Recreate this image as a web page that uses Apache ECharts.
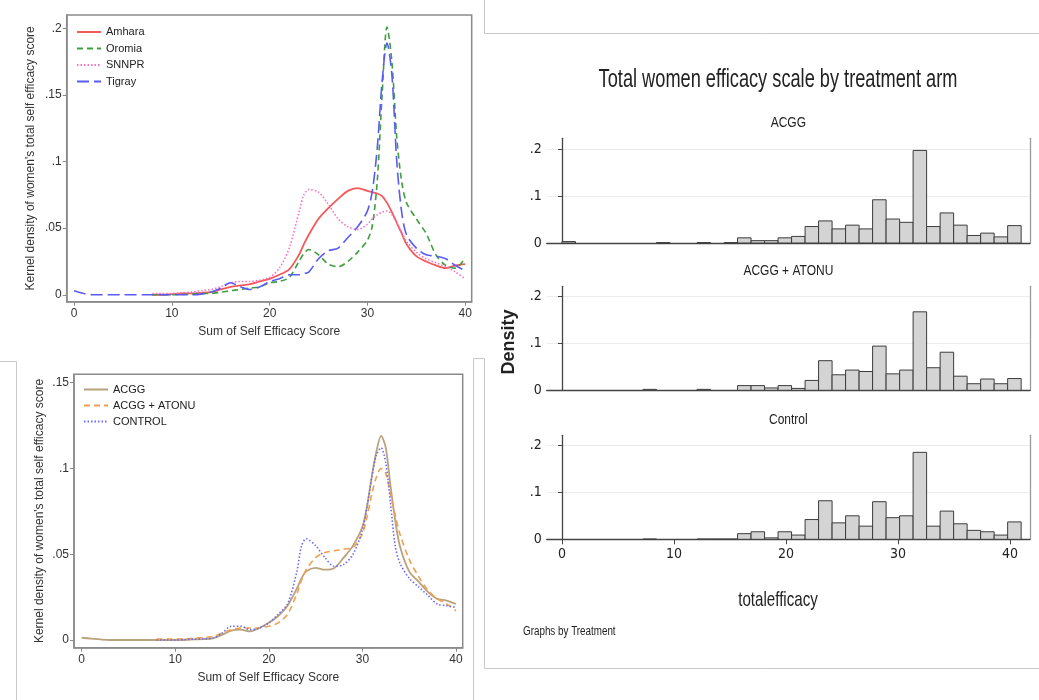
<!DOCTYPE html>
<html>
<head>
<meta charset="utf-8">
<script src="https://cdn.jsdelivr.net/npm/echarts@6/dist/echarts.min.js"></script>
<style>
  html, body { margin: 0; padding: 0; background: #fff; }
  #chart { width: 1039px; height: 700px; }
</style>
</head>
<body>
<div id="chart"></div>
<script>
// Score points at which the kernel densities are evaluated
const kdeScores = [
  0, 1, 2, 3, 4, 5, 6, 7,
  8, 9, 10, 11, 12, 13, 14, 15,
  16, 17, 18, 19, 20, 21, 22, 23,
  23.5, 24, 25, 26, 27, 28, 29, 30,
  30.5, 31, 31.5, 32, 32.5, 33, 33.5, 34,
  35, 36, 37, 38, 39, 40
];

// Kernel density by region
const amhara = [
  null, null, null, null, null, null, null, null,
  0, 0, 0.0005, 0.001, 0.001, 0.0015, 0.002, 0.004,
  0.006, 0.007, 0.008, 0.010, 0.012, 0.015, 0.019, 0.030,
  0.038, 0.045, 0.057, 0.065, 0.072, 0.078, 0.080, 0.078,
  0.077, 0.076, 0.074, 0.069, 0.062, 0.054, 0.046, 0.038,
  0.029, 0.025, 0.022, 0.020, 0.022, 0.023
];
const oromia = [
  null, null, null, null, null, null, null, null,
  0, 0, 0, 0.0003, 0.0005, 0.001, 0.001, 0.002,
  0.003, 0.004, 0.005, 0.006, 0.009, 0.010, 0.013, 0.025,
  0.031, 0.034, 0.030, 0.023, 0.021, 0.025, 0.032, 0.041,
  0.052, 0.085, 0.150, 0.201, 0.175, 0.118, 0.085, 0.069,
  0.057, 0.046, 0.030, 0.022, 0.020, 0.028
];
const snnpr = [
  null, null, null, null, null, null, null, null,
  0.001, 0.001, 0.001, 0.0015, 0.002, 0.003, 0.004, 0.006,
  0.009, 0.010, 0.010, 0.011, 0.013, 0.020, 0.035, 0.062,
  0.075, 0.079, 0.077, 0.068, 0.057, 0.051, 0.049, 0.053,
  0.057, 0.060, 0.062, 0.063, 0.060, 0.054, 0.047, 0.040,
  0.032, 0.027, 0.024, 0.021, 0.017, 0.012
];
const tigray = [
  0.003, 0.001, 0, 0, 0, 0, 0, 0,
  0, 0, 0, 0, 0, 0.0005, 0.002, 0.005,
  0.009, 0.006, 0.004, 0.006, 0.010, 0.012, 0.015, 0.015,
  0.016, 0.017, 0.027, 0.033, 0.035, 0.043, 0.051, 0.063,
  0.078, 0.110, 0.160, 0.189, 0.165, 0.100, 0.062, 0.045,
  0.035, 0.030, 0.029, 0.027, 0.022, 0.018
];

// Kernel density by treatment arm
const acggKde = [
  0.0013, 0.0008, 0.0003, 0, 0, 0, 0, 0,
  0, 0, 0, 0, 0.0003, 0.0005, 0.001, 0.003,
  0.0055, 0.006, 0.005, 0.007, 0.010, 0.014, 0.020, 0.030,
  0.036, 0.040, 0.042, 0.041, 0.042, 0.048, 0.055, 0.066,
  0.078, 0.095, 0.110, 0.119, 0.112, 0.090, 0.070, 0.055,
  0.040, 0.034, 0.028, 0.024, 0.023, 0.021
];
const acggAtonuKde = [
  null, null, null, null, null, null, null, null,
  0.0005, 0.0005, 0.0005, 0.0007, 0.001, 0.0015, 0.002, 0.004,
  0.006, 0.007, 0.007, 0.007, 0.008, 0.010, 0.015, 0.027,
  0.035, 0.041, 0.048, 0.051, 0.052, 0.053, 0.054, 0.062,
  0.072, 0.085, 0.095, 0.100, 0.097, 0.085, 0.073, 0.062,
  0.047, 0.037, 0.029, 0.024, 0.021, 0.017
];
const controlKde = [
  null, null, null, null, null, null, null, null,
  0, 0, 0, 0.0003, 0.0005, 0.0007, 0.001, 0.004,
  0.008, 0.008, 0.006, 0.007, 0.010, 0.015, 0.021, 0.040,
  0.055, 0.059, 0.055, 0.048, 0.043, 0.044, 0.050, 0.064,
  0.078, 0.095, 0.108, 0.112, 0.103, 0.080, 0.055, 0.045,
  0.036, 0.031, 0.026, 0.021, 0.020, 0.019
];

// Histogram of totalefficacy: 34 equal bins over 0..41
const histMax = 41;
const histBins = 34;
const acggHist = [
  0.003, 0, 0, 0, 0, 0, 0, 0.0008, 0, 0, 0.0008, 0, 0.0008,
  0.011, 0.005, 0.005, 0.011, 0.014, 0.035, 0.047, 0.030, 0.038, 0.030,
  0.092, 0.051, 0.044, 0.197, 0.035, 0.064, 0.038, 0.016, 0.021, 0.013, 0.037
];
const acggAtonuHist = [
  0, 0, 0, 0, 0, 0, 0.002, 0, 0, 0, 0.002, 0, 0,
  0.010, 0.010, 0.005, 0.010, 0.004, 0.021, 0.063, 0.033, 0.043, 0.040,
  0.094, 0.035, 0.043, 0.167, 0.048, 0.081, 0.030, 0.014, 0.024, 0.014, 0.025
];
const controlHist = [
  0, 0, 0, 0, 0, 0, 0.0005, 0, 0, 0, 0.0005, 0.0005, 0.0005,
  0.012, 0.016, 0.003, 0.016, 0.009, 0.042, 0.082, 0.035, 0.050, 0.028,
  0.080, 0.046, 0.050, 0.185, 0.028, 0.060, 0.033, 0.019, 0.016, 0.009, 0.037
];

const scoreTicks = [0, 10, 20, 30, 40];
const regionDensityTicks = [0, 0.05, 0.1, 0.15, 0.2];
const armDensityTicks = [0, 0.05, 0.1, 0.15];
const histDensityTicks = [0, 0.1, 0.2];
const histPanelTitles = ['ACGG', 'ACGG + ATONU', 'Control'];

const SANS = '"Liberation Sans", Arial, Helvetica, sans-serif';
const NARROW = '"Liberation Sans Narrow", "DejaVu Sans Condensed", "Liberation Sans", Arial, sans-serif';

// Stata style tick label: .05 instead of 0.05
const stataNum = v => (v === 0 ? '0' : String(+v.toFixed(3)).replace(/^0\./, '.'));

function pairs(ys) {
  const out = [];
  kdeScores.forEach((x, i) => { if (ys[i] !== null) out.push([x, ys[i]]); });
  return out;
}

function kdeLine(name, ys, axisIdx, color, type, width) {
  return {
    name, type: 'line', xAxisIndex: axisIdx, yAxisIndex: axisIdx,
    data: pairs(ys), smooth: 0.3, symbol: 'none', showSymbol: false,
    lineStyle: { color, width, type }, itemStyle: { color },
    emphasis: { disabled: true }, silent: true, z: 3
  };
}

function histData(vals) {
  const w = histMax / histBins;
  return vals.map((v, i) => [i * w, (i + 1) * w, v]);
}

function renderBin(params, api) {
  const h = api.value(2);
  if (!h) return null;
  const tl = api.coord([api.value(0), h]);
  const br = api.coord([api.value(1), 0]);
  return {
    type: 'rect',
    shape: { x: tl[0], y: tl[1], width: br[0] - tl[0], height: br[1] - tl[1] },
    style: { fill: '#d4d4d4', stroke: '#3c3c3c', lineWidth: 1 }
  };
}

// KDE panel axes (Stata look: framed plot region, outward ticks)
function kdeXAxis(gridIndex, min, max) {
  return {
    type: 'value', gridIndex, min, max,
    name: 'Sum of Self Efficacy Score', nameLocation: 'middle', nameGap: 24,
    nameTextStyle: { fontFamily: SANS, fontSize: 12, color: '#333' },
    axisLine: { show: true, onZero: false, lineStyle: { color: '#8a8a8a', width: 1.5 } },
    axisTick: { show: true, inside: false, length: 4, customValues: scoreTicks, lineStyle: { color: '#8a8a8a' } },
    axisLabel: { customValues: scoreTicks, fontFamily: SANS, fontSize: 12, color: '#333', margin: 6 },
    splitLine: { show: false }
  };
}
function kdeYAxis(gridIndex, min, max, ticks, gap) {
  return {
    type: 'value', gridIndex, min, max,
    name: "Kernel density of women's total self efficacy score", nameLocation: 'middle', nameGap: gap,
    nameRotate: 90,
    nameTextStyle: { fontFamily: SANS, fontSize: 12, color: '#333' },
    axisLine: { show: true, onZero: false, lineStyle: { color: '#8a8a8a', width: 1.5 } },
    axisTick: { show: true, inside: false, length: 4, customValues: ticks, lineStyle: { color: '#8a8a8a' } },
    axisLabel: { customValues: ticks, formatter: stataNum, fontFamily: SANS, fontSize: 12, color: '#333', margin: 5 },
    splitLine: { show: false }
  };
}

// Histogram panel axes
const histLeft = 546.7, histWidth = 483.3;
const histTops = [138.3, 286.3, 435.3];
const histHeights = [104.7, 104, 104];
const histYMax = [0.2228, 0.2213, 0.2213];

const grids = [
  { left: 66.7, top: 15, width: 405, height: 286.7, show: true, borderColor: '#8a8a8a', borderWidth: 1.5 },
  { left: 74, top: 374.3, width: 388.7, height: 273.4, show: true, borderColor: '#8a8a8a', borderWidth: 1.5 }
];
histTops.forEach((t, i) => grids.push({ left: histLeft, top: t, width: histWidth, height: histHeights[i] }));

const xAxes = [kdeXAxis(0, -0.75, 40.66), kdeXAxis(1, -0.823, 40.72)];
const yAxes = [
  kdeYAxis(0, -0.0052, 0.21, regionDensityTicks, 30),
  kdeYAxis(1, -0.0045, 0.1549, armDensityTicks, 28)
];
histTops.forEach((t, i) => {
  const last = i === histTops.length - 1;
  xAxes.push({
    type: 'value', gridIndex: 2 + i, min: -1.366, max: 41.79,
    axisLine: { show: true, onZero: false, lineStyle: { color: '#444', width: 1.3 } },
    axisTick: { show: last, length: 5, customValues: scoreTicks, lineStyle: { color: '#444' } },
    axisLabel: { show: last, customValues: scoreTicks, fontFamily: NARROW, fontSize: 14, color: '#222', margin: 8 },
    splitLine: { show: false }
  });
  yAxes.push({
    type: 'value', gridIndex: 2 + i, min: 0, max: histYMax[i], interval: 0.1,
    axisLine: { show: true, lineStyle: { color: '#444', width: 1.3 } },
    axisTick: { show: true, length: 4, customValues: histDensityTicks, lineStyle: { color: '#444' } },
    axisLabel: { customValues: histDensityTicks, formatter: stataNum, fontFamily: NARROW, fontSize: 14, color: '#222', margin: 5 },
    splitLine: { show: true, lineStyle: { color: '#ececec', width: 1 } }
  });
  // right-hand frame edge of the panel
  yAxes.push({
    type: 'value', gridIndex: 2 + i, min: 0, max: histYMax[i], position: 'right',
    axisLine: { show: true, lineStyle: { color: '#9a9a9a', width: 1.3 } },
    axisTick: { show: false }, axisLabel: { show: false }, splitLine: { show: false }
  });
});

const series = [
  kdeLine('Amhara', amhara, 0, '#f45a5a', 'solid', 1.8),
  kdeLine('Oromia', oromia, 0, '#3f9f3f', [6, 4], 1.6),
  kdeLine('SNNPR', snnpr, 0, '#ff6fc0', [1.5, 2], 1.6),
  kdeLine('Tigray', tigray, 0, '#5a5af5', [12, 5], 1.6),
  kdeLine('ACGG', acggKde, 1, '#b9a27c', 'solid', 1.8),
  kdeLine('ACGG + ATONU', acggAtonuKde, 1, '#f0a050', [6, 4], 1.6),
  kdeLine('CONTROL', controlKde, 1, '#6a6af5', [1.5, 2], 1.6)
];
[acggHist, acggAtonuHist, controlHist].forEach((vals, i) => {
  series.push({
    type: 'custom', xAxisIndex: 2 + i, yAxisIndex: 2 + 2 * i,
    renderItem: renderBin, data: histData(vals), silent: true,
    encode: { x: [0, 1], y: 2 }
  });
});

const legendText = { fontFamily: SANS, fontSize: 11, color: '#222' };

// condensed-looking captions: regular face squeezed horizontally
const caption = (text, x, y, font, sx, align) => ({
  type: 'text', x, y, scaleX: sx, silent: true,
  style: { text, font, fill: '#222', textAlign: align || 'center', textVerticalAlign: 'middle' }
});

const graphicTexts = [
  caption('Total women efficacy scale by treatment arm', 778, 80, '26px ' + SANS, 0.70),
  { type: 'text', x: 509, y: 342, rotation: Math.PI / 2, silent: true,
    style: { text: 'Density', font: 'bold 18px ' + SANS, fill: '#222', textAlign: 'center', textVerticalAlign: 'middle' } },
  caption('totalefficacy', 778, 600, '21px ' + SANS, 0.72),
  caption('Graphs by Treatment', 523, 632, '12px ' + SANS, 0.82, 'left')
];
histPanelTitles.forEach((t, i) => {
  graphicTexts.push(caption(t, histLeft + histWidth / 2, histTops[i] - 15, '15px ' + SANS, 0.8));
});

// thin separators between the three figure blocks
const sep = (x1, y1, x2, y2) => ({ type: 'line', shape: { x1, y1, x2, y2 },
  style: { stroke: '#c9c9c9', lineWidth: 1 }, silent: true });
const separators = [
  sep(484.5, 0, 484.5, 33.5), sep(484.5, 33.5, 1039, 33.5),
  sep(0, 361.5, 16.5, 361.5), sep(16.5, 361.5, 16.5, 700),
  sep(473.5, 358.5, 484.5, 358.5), sep(473.5, 358.5, 473.5, 700),
  sep(484.5, 358.5, 484.5, 668.5), sep(484.5, 668.5, 1039, 668.5)
];

const legendBase = {
  orient: 'vertical', itemWidth: 24, itemHeight: 12, textStyle: legendText,
  selectedMode: false, padding: 0, itemStyle: { opacity: 0 }
};

const chart = echarts.init(document.getElementById('chart'), null, { renderer: 'canvas' });
chart.setOption({
  backgroundColor: '#fff',
  animation: false,
  grid: grids,
  xAxis: xAxes,
  yAxis: yAxes,
  legend: [
    Object.assign({}, legendBase, { data: ['Amhara', 'Oromia', 'SNNPR', 'Tigray'], left: 76, top: 26.5, itemGap: 5.5 }),
    Object.assign({}, legendBase, { data: ['ACGG', 'ACGG + ATONU', 'CONTROL'], left: 83, top: 384, itemGap: 5 })
  ],
  graphic: separators.concat(graphicTexts),
  series
});
</script>
</body>
</html>
